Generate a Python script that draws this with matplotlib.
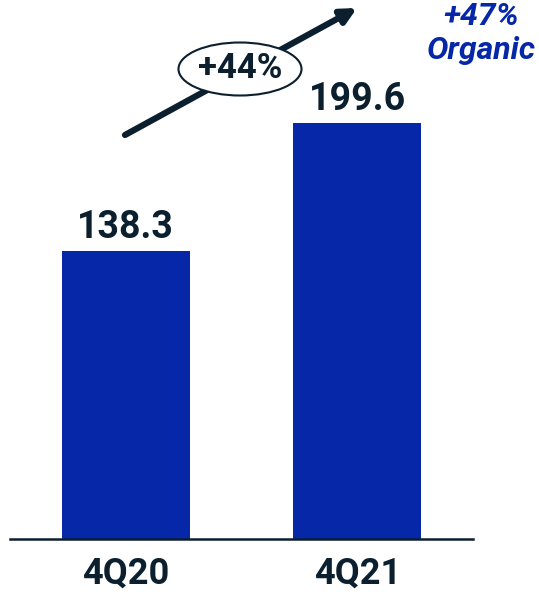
import matplotlib.pyplot as plt
from matplotlib.patches import Ellipse

plt.rcParams['font.family'] = ['Roboto', 'DejaVu Sans']

quarters = ['4Q20', '4Q21']
values = [138.3, 199.6]
growth = '+44%'
organic = '+47%\nOrganic'

bar_color = '#0527A8'
text_color = '#0B1F2E'

W, H = 539, 592
fig = plt.figure(figsize=(W / 100, H / 100), dpi=100)
ax = fig.add_axes([10 / W, 53 / H, 463 / W, 539 / H])

x = range(len(quarters))
ax.bar(x, values, width=0.555, color=bar_color)
ax.set_xlim(-0.5, 1.5)
ax.set_ylim(0, 258.6)

for xi, v in zip(x, values):
    ax.annotate(f'{v:.1f}', (xi, v), xytext=(0, 9), textcoords='offset points',
                ha='center', va='baseline', fontsize=27, fontweight='bold',
                color=text_color)

ax.set_xticks(list(x))
ax.set_xticklabels(quarters, fontsize=26, fontweight='bold', color=text_color)
ax.tick_params(axis='x', length=0, pad=12)
ax.set_yticks([])
for s in ['top', 'right', 'left']:
    ax.spines[s].set_visible(False)
ax.spines['bottom'].set_color(text_color)
ax.spines['bottom'].set_linewidth(1.8)


def fpos(px, py):
    return (px / W, 1 - py / H)


# growth arrow with ellipse label
ax.annotate('', xy=fpos(357, 8), xytext=fpos(125, 135),
            xycoords='figure fraction', textcoords='figure fraction',
            arrowprops=dict(arrowstyle='-|>,head_length=0.9,head_width=0.45',
                            lw=4.5, color=text_color, shrinkA=0, shrinkB=0),
            annotation_clip=False)
cx, cy = fpos(240, 69)
fig.add_artist(Ellipse((cx, cy), 123 / W, 53 / H, transform=fig.transFigure,
                       facecolor='white', edgecolor=text_color, lw=1.5, zorder=5))
fig.text(cx, cy, growth, ha='center', va='center', fontsize=25,
         fontweight='bold', color=text_color, zorder=6)

ox, oy = fpos(481, 2)
fig.text(ox, oy, organic, ha='center', va='top', fontsize=23, fontweight='bold',
         fontstyle='italic', color=bar_color, linespacing=1.2)

fig.savefig('out.png', dpi=100)
